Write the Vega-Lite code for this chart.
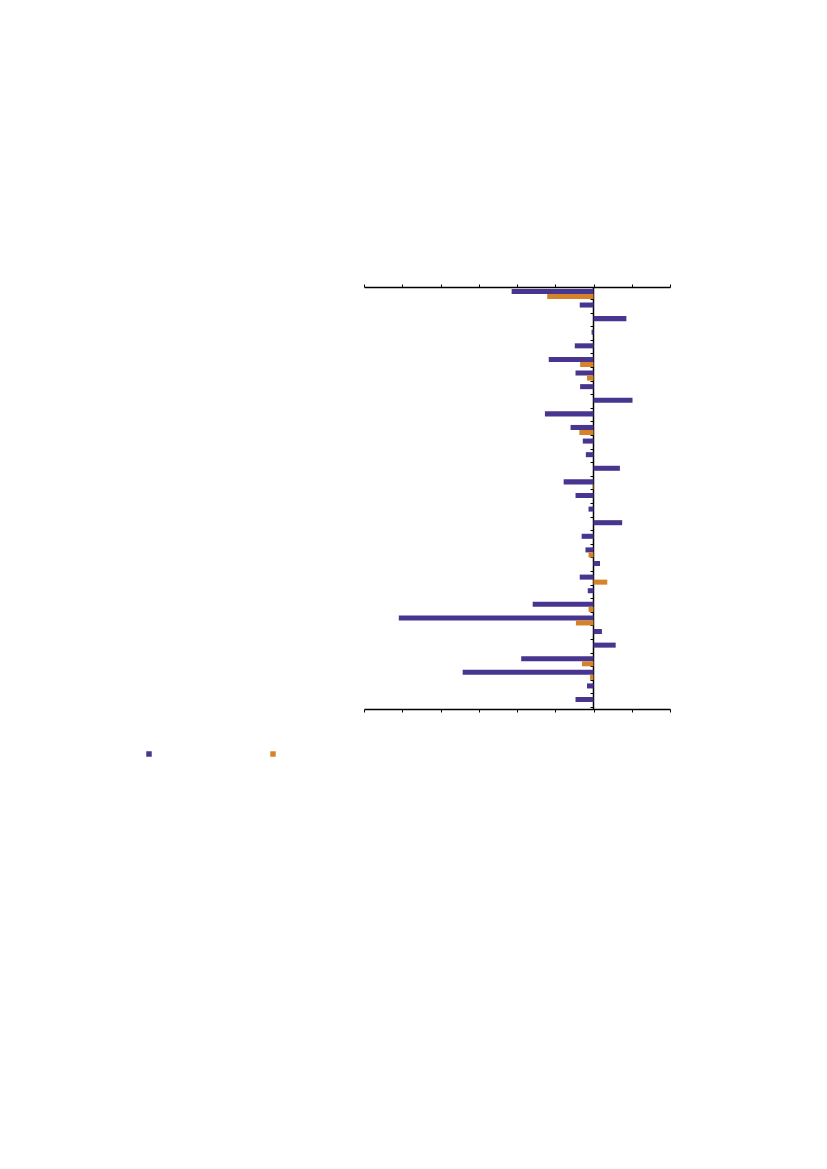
{
  "$schema": "https://vega.github.io/schema/vega-lite/v6.json",
  "autosize": "none",
  "width": 306,
  "height": 422,
  "padding": {"left": 364, "top": 287, "right": 157, "bottom": 460},
  "background": "white",
  "config": {"view": {"stroke": null}},
  "data": {"values": [
    {"cat": "01", "series": "A", "value": -2.14}, {"cat": "01", "series": "B", "value": -1.21},
    {"cat": "02", "series": "A", "value": -0.36},
    {"cat": "03", "series": "A", "value": 0.86},
    {"cat": "04", "series": "A", "value": -0.05},
    {"cat": "05", "series": "A", "value": -0.49},
    {"cat": "06", "series": "A", "value": -1.17}, {"cat": "06", "series": "B", "value": -0.35},
    {"cat": "07", "series": "A", "value": -0.47}, {"cat": "07", "series": "B", "value": -0.17},
    {"cat": "08", "series": "A", "value": -0.35},
    {"cat": "09", "series": "A", "value": 1.02},
    {"cat": "10", "series": "A", "value": -1.27},
    {"cat": "11", "series": "A", "value": -0.60}, {"cat": "11", "series": "B", "value": -0.37},
    {"cat": "12", "series": "A", "value": -0.28},
    {"cat": "13", "series": "A", "value": -0.20},
    {"cat": "14", "series": "A", "value": 0.69},
    {"cat": "15", "series": "A", "value": -0.78}, {"cat": "15", "series": "B", "value": -0.02},
    {"cat": "16", "series": "A", "value": -0.47},
    {"cat": "17", "series": "A", "value": -0.13},
    {"cat": "18", "series": "A", "value": 0.75},
    {"cat": "19", "series": "A", "value": -0.31},
    {"cat": "20", "series": "A", "value": -0.21}, {"cat": "20", "series": "B", "value": -0.13},
    {"cat": "21", "series": "A", "value": 0.17},
    {"cat": "22", "series": "A", "value": -0.36}, {"cat": "22", "series": "B", "value": 0.36},
    {"cat": "23", "series": "A", "value": -0.15},
    {"cat": "24", "series": "A", "value": -1.59}, {"cat": "24", "series": "B", "value": -0.13},
    {"cat": "25", "series": "A", "value": -5.09}, {"cat": "25", "series": "B", "value": -0.46},
    {"cat": "26", "series": "A", "value": 0.22},
    {"cat": "27", "series": "A", "value": 0.58},
    {"cat": "28", "series": "A", "value": -1.89}, {"cat": "28", "series": "B", "value": -0.30},
    {"cat": "29", "series": "A", "value": -3.42}, {"cat": "29", "series": "B", "value": -0.09},
    {"cat": "30", "series": "A", "value": -0.17},
    {"cat": "31", "series": "A", "value": -0.47}
  ]},
  "resolve": {"axis": {"x": "independent", "y": "independent"}},
  "layer": [
    {
      "mark": {"type": "bar", "stroke": null},
      "encoding": {
        "y": {"field": "cat", "type": "nominal", "sort": null,
              "scale": {"paddingInner": 0.26, "paddingOuter": 0.14},
              "axis": {"orient": "left", "offset": -229, "title": null, "labels": false,
                       "domain": true, "domainColor": "black", "domainWidth": 1.5,
                       "ticks": true, "tickBand": "extent", "tickSize": 3, "tickColor": "black", "tickWidth": 1}},
        "yOffset": {"field": "series", "type": "nominal", "scale": {"domain": ["A", "B"], "paddingInner": 0, "paddingOuter": 0}},
        "x": {"field": "value", "type": "quantitative",
              "scale": {"domain": [-6, 2], "nice": false, "zero": false},
              "axis": {"orient": "bottom", "title": null, "labels": false, "grid": false,
                       "values": [-6, -5, -4, -3, -2, -1, 0, 1, 2],
                       "domainColor": "black", "domainWidth": 1.5,
                       "tickColor": "black", "tickSize": 3, "tickWidth": 1}},
        "color": {"field": "series", "type": "nominal",
                  "scale": {"domain": ["A", "B"], "range": ["#47358f", "#d5832a"]},
                  "legend": {"orient": "none", "legendX": -220, "legendY": 462, "direction": "horizontal",
                             "title": null, "labelExpr": "''", "symbolType": "square", "symbolSize": 30,
                             "symbolStrokeWidth": 0, "labelOffset": 0, "columnPadding": 114, "padding": 0}}
      }
    },
    {
      "data": {"values": [{"v": -6}]},
      "mark": {"type": "rule", "opacity": 0},
      "encoding": {
        "x": {"field": "v", "type": "quantitative",
              "scale": {"domain": [-6, 2], "nice": false, "zero": false},
              "axis": {"orient": "top", "title": null, "labels": false, "grid": false,
                       "values": [-6, -5, -4, -3, -2, -1, 0, 1, 2],
                       "domainColor": "black", "domainWidth": 1.5,
                       "tickColor": "black", "tickSize": 3, "tickWidth": 1}}
      }
    }
  ]
}
